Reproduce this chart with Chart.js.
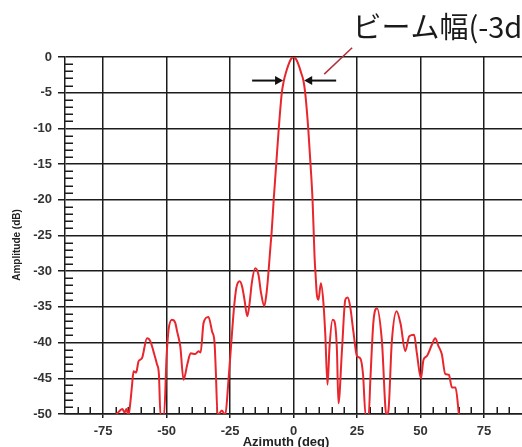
<!DOCTYPE html>
<html>
<head>
<meta charset="utf-8">
<script src="https://cdn.jsdelivr.net/npm/chart.js@4"></script>
<style>
  html, body { margin: 0; padding: 0; background: #fff; }
</style>
</head>
<body>
<canvas id="chart" width="522" height="447"></canvas>
<script>
// azimuth (deg) / amplitude (dB)
const azimuth = [
  -70.2, -68.6, -67.4, -66.5, -65.8, -65.0, -64.3, -63.6, -63.0, -62.0,
  -61.0, -59.7, -57.7, -56.4, -55.1, -53.8, -53.0, -52.4, -51.0, -50.0,
  -49.2, -47.9, -46.6, -45.8, -44.6, -43.3, -41.8, -40.5, -38.7, -37.4,
  -36.6, -35.4, -33.5, -32.1, -31.1, -30.6, -29.9, -28.2, -26.9, -25.6,
  -24.5, -23.4, -22.5, -21.2, -20.2, -19.3, -18.2, -17.3, -16.4, -15.1,
  -13.8, -12.8, -11.5, -10.6, -10.1, -9.5, -9.0, -8.6, -7.8, -6.8,
  -5.8, -4.6, -3.8, -3.0, -2.0, -1.0, 0, 1.0, 2.0, 3.0,
  3.9, 4.6, 5.8, 6.7, 7.5, 8.0, 8.3, 8.7, 9.2, 9.8,
  10.8, 11.8, 12.5, 13.4, 14.2, 15.4, 16.1, 17.1, 17.7, 19.1,
  20.4, 21.3, 22.3, 23.6, 25.0, 26.3, 27.4, 28.4, 29.6, 30.3,
  31.5, 32.9, 34.8, 36.6, 37.4, 38.7, 40.6, 42.2, 44.0, 45.6,
  47.5, 48.6, 50.2, 51.2, 52.5, 54.5, 55.8, 57.1, 58.4, 59.8,
  61.2, 62.4, 63.8, 65.2
];
const amplitude = [
  -50.2, -49.6, -49.3, -49.8, -49.3, -50.2, -48.5, -46.0, -44.0, -44.2,
  -42.6, -42.2, -39.4, -39.8, -41.3, -43.0, -44.5, -50.2, -50.2, -42.0,
  -38.2, -36.8, -37.2, -38.5, -40.5, -45.2, -43.0, -41.5, -41.6, -41.2,
  -41.4, -37.2, -36.4, -38.4, -40.0, -44.0, -50.2, -49.5, -50.2, -45.2,
  -40.0, -35.0, -32.3, -31.4, -32.2, -34.0, -36.3, -34.5, -31.6, -29.6,
  -30.5, -33.0, -34.9, -33.0, -31.2, -28.5, -26.2, -24.5, -20, -15,
  -10, -5, -3.3, -2.2, -1.1, -0.3, 0, -0.3, -1.1, -2.2,
  -3.3, -5, -10, -15, -20, -25, -28, -30.5, -33.3, -34.0,
  -31.7, -34.5, -38.7, -45.9, -40.5, -36.8, -37.0, -41.0, -48.5, -41.0,
  -34.0, -33.7, -34.9, -38.5, -41.9, -42.2, -44.5, -50.2, -50.2, -45.0,
  -37.0, -35.2, -39.7, -50.2, -49.5, -40.0, -35.6, -37.4, -41.2, -39.1,
  -38.9, -41.5, -45.0, -42.4, -41.9, -40.3, -39.4, -40.5, -41.6, -44.4,
  -44.5, -46.3, -46.3, -50.2
];
const xTicks = [-75, -50, -25, 0, 25, 50, 75];
const beamLabel = "ビーム幅(-3dB)";
const xTitle = "Azimuth (deg)";
const yTitle = "Amplitude (dB)";

const ink = "#1c1c1c";
const tickFont = { family: "'Liberation Sans', Arial, sans-serif", size: 13, weight: "bold" };

// minor ticks, axis titles and the beam-width marks
const extras = {
  id: "extras",
  beforeDatasetsDraw(chart) {
    const { ctx, chartArea: a, scales: { x, y } } = chart;
    ctx.save();
    ctx.strokeStyle = ink;
    ctx.lineWidth = 1.5;
    ctx.beginPath();
    for (let v = -49; v < 0; v++) {
      if (v % 5 === 0) continue;
      const py = Math.round(y.getPixelForValue(v)) + 0.25;
      ctx.moveTo(a.left, py);
      ctx.lineTo(a.left + 8, py);
    }
    for (let v = -85; v < 90; v += 5) {
      if (v % 25 === 0) continue;
      const px = Math.round(x.getPixelForValue(v)) + 0.25;
      ctx.moveTo(px, a.bottom);
      ctx.lineTo(px, a.bottom - 7);
    }
    ctx.stroke();
    ctx.restore();
  },
  afterDraw(chart) {
    const { ctx, scales: { x, y } } = chart;
    ctx.save();
    ctx.fillStyle = "#222";
    ctx.font = "bold 13px 'Liberation Sans', Arial, sans-serif";
    ctx.textAlign = "center";
    ctx.textBaseline = "alphabetic";
    ctx.fillText(xTitle, 286, 446);
    ctx.save();
    ctx.translate(17, 245);
    ctx.rotate(-Math.PI / 2);
    ctx.font = "bold 10px 'Liberation Sans', Arial, sans-serif";
    ctx.textBaseline = "middle";
    ctx.fillText(yTitle, 0, 0);
    ctx.restore();

    // -3 dB arrows
    const ay = y.getPixelForValue(-3.3);
    const arrow = (from, to) => {
      const x0 = x.getPixelForValue(from), x1 = x.getPixelForValue(to);
      const dir = Math.sign(x1 - x0);
      ctx.strokeStyle = "#111";
      ctx.fillStyle = "#111";
      ctx.lineWidth = 2;
      ctx.beginPath();
      ctx.moveTo(x0, ay);
      ctx.lineTo(x1 - dir * 6, ay);
      ctx.stroke();
      ctx.beginPath();
      ctx.moveTo(x1, ay);
      ctx.lineTo(x1 - dir * 8, ay - 4.5);
      ctx.lineTo(x1 - dir * 8, ay + 4.5);
      ctx.closePath();
      ctx.fill();
    };
    arrow(-16.3, -4.1);
    arrow(16.8, 4.2);

    // leader line and label
    ctx.strokeStyle = "#b0303c";
    ctx.lineWidth = 1.5;
    ctx.beginPath();
    ctx.moveTo(x.getPixelForValue(12.1), y.getPixelForValue(-2.4));
    ctx.lineTo(x.getPixelForValue(23.1), y.getPixelForValue(1.3));
    ctx.stroke();
    ctx.fillStyle = "#1a1a1a";
    ctx.font = "29px 'Noto Sans CJK JP', sans-serif";
    ctx.textAlign = "left";
    ctx.textBaseline = "alphabetic";
    ctx.fillText(beamLabel, x.getPixelForValue(23.2), 38);
    ctx.restore();
  }
};

new Chart(document.getElementById("chart"), {
  type: "line",
  data: {
    datasets: [{
      data: azimuth.map((a, i) => ({ x: a, y: amplitude[i] })),
      borderColor: "#e8262c",
      borderWidth: 2,
      pointRadius: 0,
      cubicInterpolationMode: "monotone",
      fill: false
    }]
  },
  options: {
    responsive: false,
    animation: false,
    devicePixelRatio: 1,
    layout: { padding: { top: 57, left: 0, right: 0, bottom: 0 } },
    plugins: { legend: { display: false }, tooltip: { enabled: false } },
    scales: {
      x: {
        type: "linear",
        min: -90,
        max: 90,
        afterBuildTicks: s => { s.ticks = xTicks.map(v => ({ value: v })); },
        afterFit: s => { s.height = 33; },
        grid: { color: ink, lineWidth: 1.5, tickLength: 4 },
        border: { color: ink, width: 1.5 },
        ticks: { font: tickFont, color: "#333", padding: 6, maxRotation: 0, autoSkip: false }
      },
      y: {
        min: -50,
        max: 0,
        afterFit: s => { s.width = 65; },
        grid: { color: ink, lineWidth: 1.5, tickLength: 7 },
        border: { color: ink, width: 1.5 },
        ticks: { stepSize: 5, font: tickFont, color: "#333", padding: 6 }
      }
    }
  },
  plugins: [extras]
});
</script>
</body>
</html>
